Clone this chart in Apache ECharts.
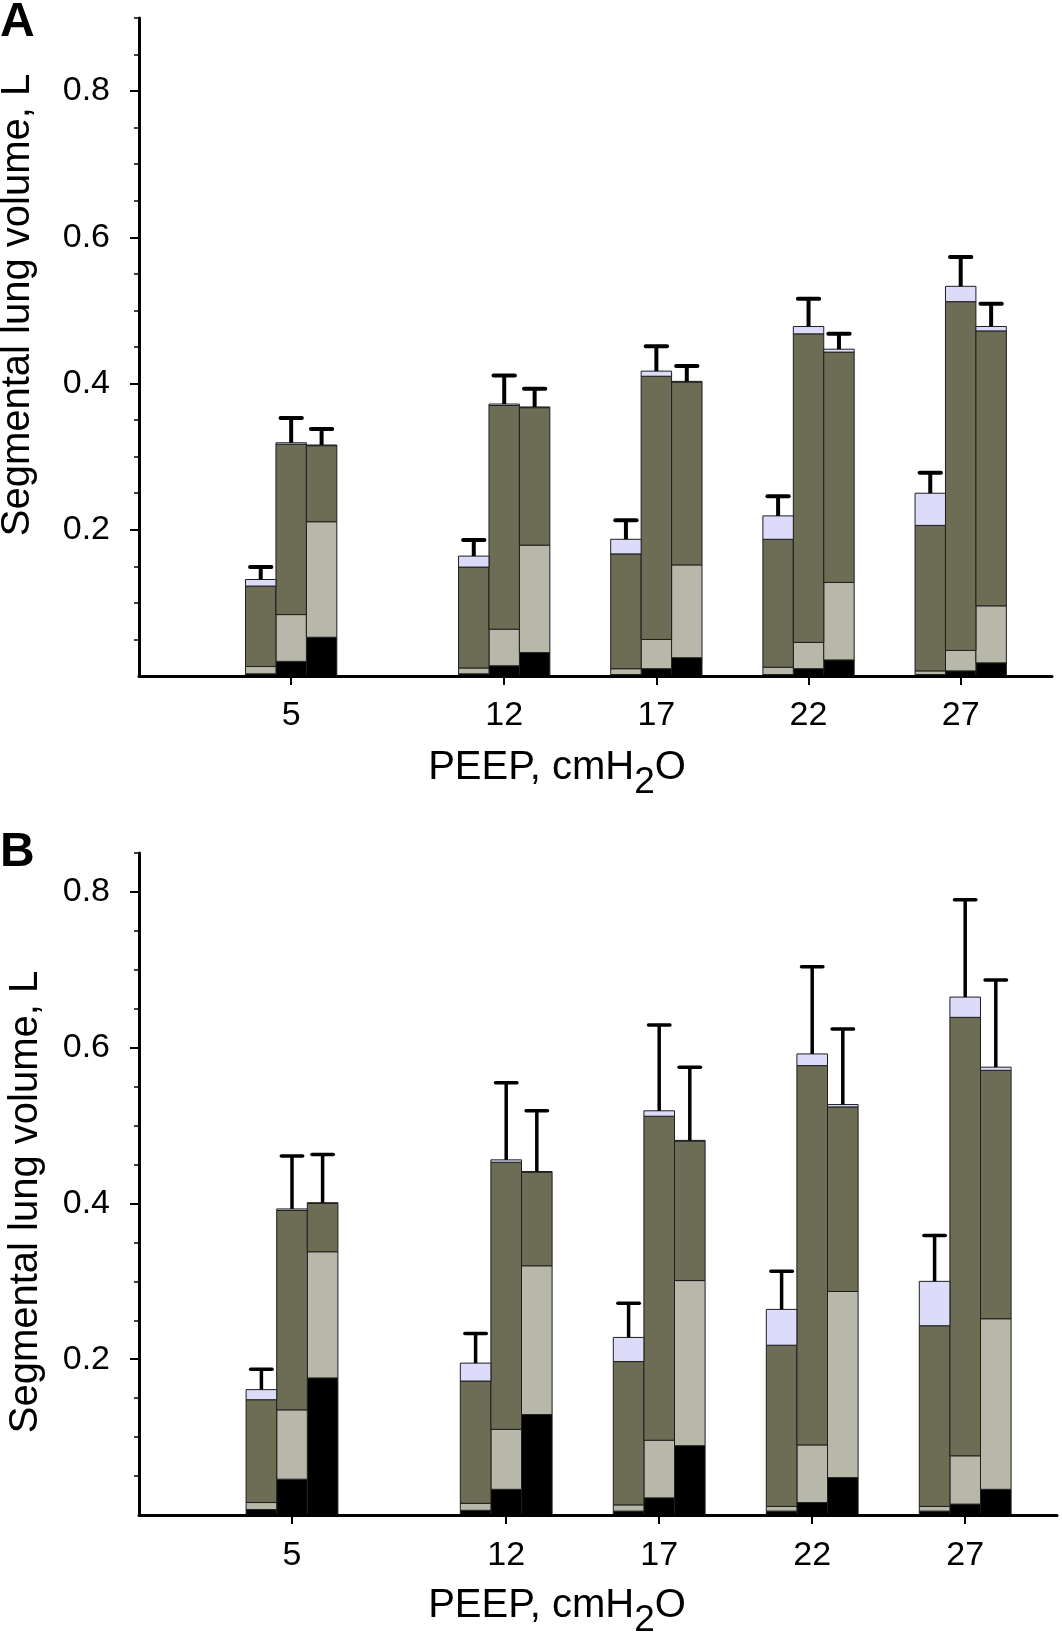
<!DOCTYPE html>
<html><head><meta charset="utf-8">
<script src="https://cdn.jsdelivr.net/npm/echarts@6/dist/echarts.min.js"></script>
<style>html,body{margin:0;padding:0;background:#fff}#c{width:1062px;height:1641px}</style>
</head><body><div id="c"></div><script>
// ---------- data ----------
const peep = [5, 12, 17, 22, 27];
const xTickValues = [5, 12, 17, 22, 27];
const yLabelValues = [0.2, 0.4, 0.6, 0.8];
const yMinorTicksA = [0.05,0.1,0.15,0.2,0.25,0.3,0.35,0.4,0.45,0.5,0.55,0.6,0.65,0.7,0.75,0.8,0.85,0.9];
const yMinorTicksB = [0.05,0.1,0.15,0.2,0.25,0.3,0.35,0.4,0.45,0.5,0.55,0.6,0.65,0.7,0.75,0.8,0.85];
// rows: left bar, middle bar, right bar; columns follow peep
// Panel A
const A_nonAerated    = [[0.003,0.003,0.002,0.002,0.002],[0.020,0.014,0.010,0.010,0.007],[0.053,0.032,0.025,0.022,0.018]];
const A_poorlyAerated = [[0.010,0.008,0.008,0.010,0.005],[0.064,0.050,0.040,0.036,0.028],[0.158,0.147,0.127,0.106,0.078]];
const A_normAerated   = [[0.110,0.138,0.157,0.175,0.199],[0.233,0.306,0.360,0.422,0.477],[0.104,0.188,0.250,0.315,0.376]];
const A_hyperAerated  = [[0.009,0.015,0.020,0.032,0.044],[0.002,0.002,0.007,0.010,0.021],[0.001,0.001,0.001,0.004,0.006]];
const A_sd            = [[0.017,0.022,0.026,0.027,0.028],[0.034,0.039,0.034,0.038,0.040],[0.022,0.025,0.021,0.021,0.031]];
// Panel B
const B_nonAerated    = [[0.007,0.006,0.005,0.005,0.005],[0.046,0.033,0.022,0.016,0.014],[0.176,0.129,0.089,0.048,0.033]];
const B_poorlyAerated = [[0.009,0.009,0.008,0.006,0.006],[0.089,0.077,0.074,0.074,0.062],[0.162,0.191,0.212,0.239,0.219]];
const B_normAerated   = [[0.132,0.157,0.184,0.207,0.232],[0.256,0.343,0.416,0.487,0.563],[0.062,0.120,0.179,0.237,0.319]];
const B_hyperAerated  = [[0.013,0.023,0.031,0.046,0.057],[0.002,0.003,0.007,0.015,0.026],[0.001,0.001,0.001,0.003,0.004]];
const B_sd            = [[0.026,0.038,0.044,0.049,0.059],[0.068,0.099,0.110,0.112,0.125],[0.062,0.078,0.094,0.097,0.112]];

// ---------- drawing ----------
const FONT = '"Liberation Sans", Arial, sans-serif';
const BAR_OFFSETS = [-1, 0, 1];
const COLORS = ['#000000', '#b8b8aa', '#6d6d55', '#dcdcfa'];

function rectRenderer(color) {
  return function (params, api) {
    const x = api.value(0), y0 = api.value(1), y1 = api.value(2);
    const p0 = api.coord([x - 0.5, y1]);
    const p1 = api.coord([x + 0.5, y0]);
    return {
      type: 'rect',
      shape: { x: p0[0], y: p0[1], width: p1[0] - p0[0], height: p1[1] - p0[1] },
      style: { fill: color, stroke: '#1e1e1e', lineWidth: 1 }
    };
  };
}
function errRenderer(w) {
  return function (params, api) {
    const x = api.value(0), top = api.value(1), cap = api.value(2);
    const a = api.coord([x, top]);
    const c = api.coord([x, cap]);
    const hw = api.size([0.35, 0])[0];
    return {
      type: 'group',
      children: [
        { type: 'line', shape: { x1: a[0], y1: a[1], x2: c[0], y2: c[1] }, style: { stroke: '#000', lineWidth: w } },
        { type: 'line', shape: { x1: c[0] - hw, y1: c[1], x2: c[0] + hw, y2: c[1] }, style: { stroke: '#000', lineWidth: w, lineCap: 'round' } }
      ]
    };
  };
}
function panelSeries(gi, comps, sd, errW) {
  const out = [];
  const cum = [0, 1, 2].map(() => peep.map(() => 0));
  comps.forEach((comp, ci) => {
    const data = [];
    for (let b = 0; b < 3; b++) {
      for (let i = 0; i < peep.length; i++) {
        const y0 = cum[b][i], y1 = y0 + comp[b][i];
        data.push([peep[i] + BAR_OFFSETS[b], y0, y1]);
        cum[b][i] = y1;
      }
    }
    out.push({ type: 'custom', xAxisIndex: gi, yAxisIndex: gi * 2, data: data,
      encode: { x: 0, y: [1, 2] }, renderItem: rectRenderer(COLORS[ci]), z: 2, silent: true });
  });
  const edata = [];
  for (let b = 0; b < 3; b++) {
    for (let i = 0; i < peep.length; i++) {
      edata.push([peep[i] + BAR_OFFSETS[b], cum[b][i], cum[b][i] + sd[b][i]]);
    }
  }
  out.push({ type: 'custom', xAxisIndex: gi, yAxisIndex: gi * 2, data: edata,
    encode: { x: 0, y: [1, 2] }, renderItem: errRenderer(errW), z: 3, silent: true });
  return out;
}
function xAxisCfg(gi, margin) {
  return {
    gridIndex: gi, type: 'value', min: 0, max: 30, z: 5,
    axisLine: { show: true, onZero: false, lineStyle: { color: '#000', width: 3 } },
    axisTick: { show: true, customValues: xTickValues, length: 9, inside: false, lineStyle: { color: '#000', width: 2 } },
    axisLabel: { customValues: xTickValues, fontSize: 34, fontFamily: FONT, color: '#000', margin: margin },
    splitLine: { show: false }
  };
}
function yAxesCfg(gi, max, minor) {
  return [
    { gridIndex: gi, type: 'value', min: 0, max: max, position: 'left', z: 5,
      axisLine: { show: true, onZero: false, lineStyle: { color: '#000', width: 3 } },
      axisTick: { show: true, customValues: minor, length: 5, lineStyle: { color: '#000', width: 1.5 } },
      axisLabel: { customValues: yLabelValues, fontSize: 34, fontFamily: FONT, color: '#000', margin: 29,
        formatter: v => v.toFixed(1) },
      splitLine: { show: false } },
    { gridIndex: gi, type: 'value', min: 0, max: max, position: 'left', z: 5,
      axisLine: { show: false },
      axisTick: { show: true, customValues: yLabelValues, length: 9, lineStyle: { color: '#000', width: 2 } },
      axisLabel: { show: false },
      splitLine: { show: false } }
  ];
}
const xTitleStyle = (y) => ({
  type: 'text', x: 557, y: y, z: 10,
  style: {
    text: '{n|PEEP, cmH}{s|2}{n|O}', align: 'center', verticalAlign: 'top',
    rich: {
      n: { fontSize: 40, fontFamily: FONT, fill: '#000', verticalAlign: 'top', lineHeight: 42 },
      s: { fontSize: 37, fontFamily: FONT, fill: '#000', verticalAlign: 'top', lineHeight: 42, padding: [16, 0, 0, 0] }
    }
  }
});
const yTitle = (x, y) => ({
  type: 'text', x: x, y: y, rotation: Math.PI / 2, z: 10,
  style: { text: 'Segmental lung volume, L', fontSize: 40, fontFamily: FONT, fill: '#000', align: 'center', verticalAlign: 'middle' }
});
const panelLetter = (t, y) => ({
  type: 'text', x: 0, y: y, z: 10,
  style: { text: t, fontSize: 48, fontWeight: 'bold', fontFamily: FONT, fill: '#000', align: 'left', verticalAlign: 'middle' }
});

const chart = echarts.init(document.getElementById('c'), null, { renderer: 'canvas' });
chart.setOption({
  animation: false,
  backgroundColor: '#fff',
  grid: [
    { left: 139, right: 10, top: 18, height: 658 },
    { left: 139, right: 5, top: 853, height: 662 }
  ],
  xAxis: [xAxisCfg(0, 23), xAxisCfg(1, 24)],
  yAxis: yAxesCfg(0, 0.9, yMinorTicksA).concat(yAxesCfg(1, 0.85, yMinorTicksB)),
  series: panelSeries(0, [A_nonAerated, A_poorlyAerated, A_normAerated, A_hyperAerated], A_sd, 4)
    .concat(panelSeries(1, [B_nonAerated, B_poorlyAerated, B_normAerated, B_hyperAerated], B_sd, 3.5)),
  graphic: [
    panelLetter('A', 23),
    panelLetter('B', 853),
    yTitle(18, 305),
    yTitle(26, 1202),
    xTitleStyle(748),
    xTitleStyle(1586)
  ]
});
</script></body></html>
